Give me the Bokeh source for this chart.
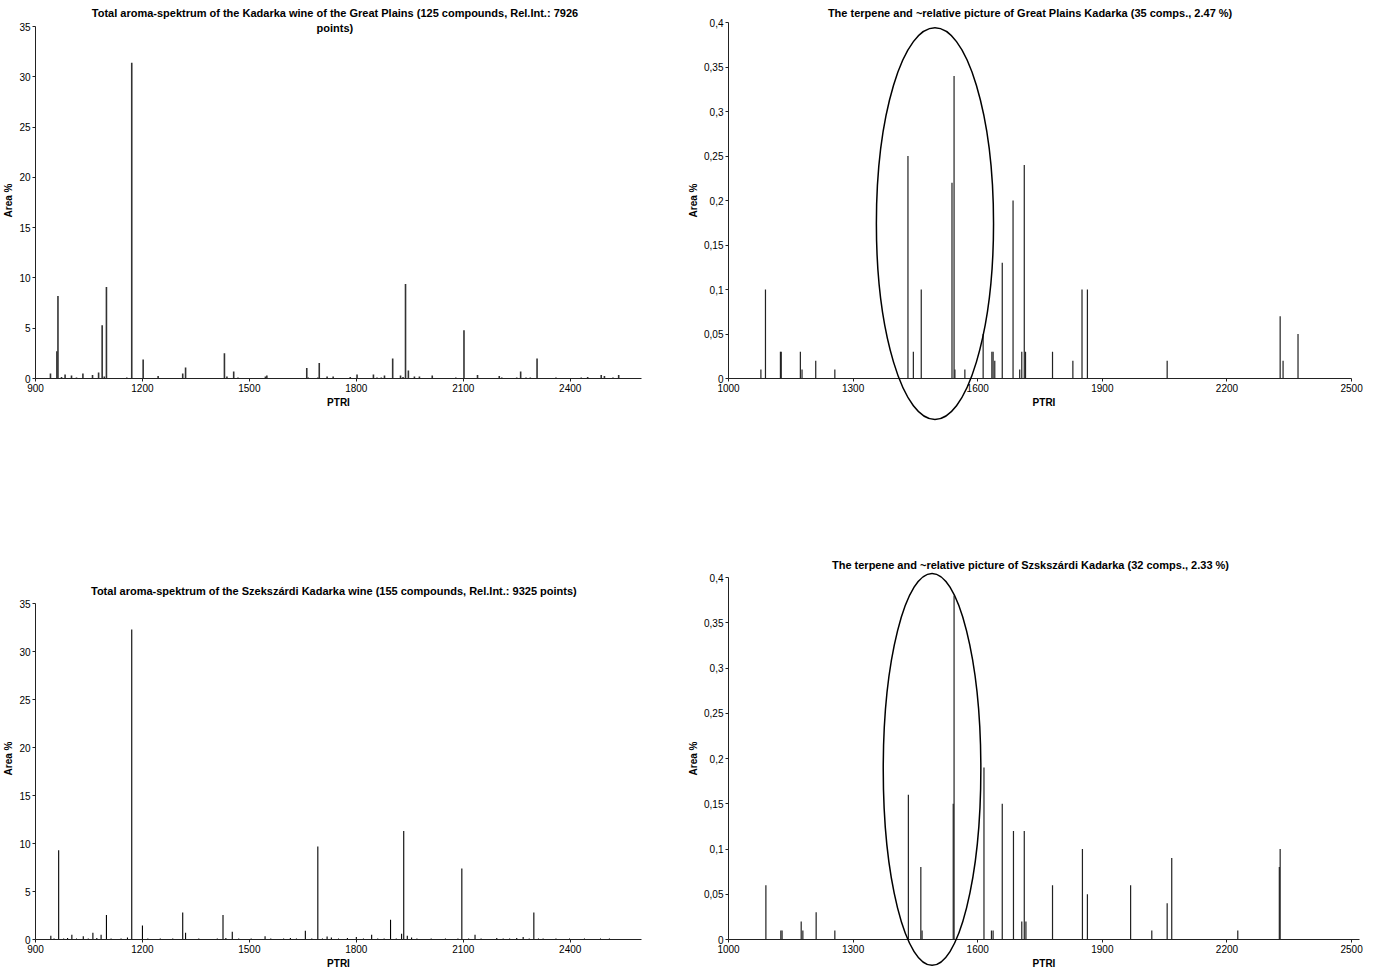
from bokeh.plotting import figure
from bokeh.layouts import column, row
from bokeh.models import Range1d, FixedTicker, CustomJSTickFormatter
from bokeh.core.properties import value
from bokeh.embed import file_html
from bokeh.resources import INLINE

# ---------------- data ----------------
gp_total_ptri = [942, 960, 963, 973, 983, 1001, 1015, 1033, 1060, 1077,
                 1087, 1093, 1099, 1156, 1170, 1202, 1244, 1313, 1321, 1361,
                 1430, 1437, 1456, 1468, 1545, 1549, 1585, 1620, 1661, 1665,
                 1692, 1696, 1718, 1735, 1783, 1802, 1848, 1858, 1870, 1879,
                 1902, 1924, 1931, 1938, 1946, 1963, 1977, 1993, 2013, 2061,
                 2079, 2102, 2140, 2201, 2208, 2250, 2261, 2276, 2288, 2301,
                 2307, 2335, 2360, 2431, 2449, 2487, 2496, 2520, 2536]
gp_total_area = [0.5, 2.7, 8.2, 0.15, 0.4, 0.3, 0.1, 0.5, 0.35, 0.6,
                 5.3, 0.2, 9.1, 0.1, 31.4, 1.9, 0.25, 0.5, 1.1, 0.05,
                 2.5, 0.2, 0.7, 0.1, 0.2, 0.3, 0.05, 0.05, 1.05, 0.1,
                 0.1, 1.55, 0.2, 0.2, 0.15, 0.4, 0.4, 0.1, 0.1, 0.3,
                 2.0, 0.3, 0.15, 9.4, 0.8, 0.2, 0.2, 0.05, 0.3, 0.05,
                 0.1, 4.8, 0.35, 0.25, 0.1, 0.1, 0.7, 0.1, 0.1, 0.05,
                 2.0, 0.05, 0.1, 0.1, 0.15, 0.35, 0.25, 0.1, 0.35]

sz_total_ptri = [943, 952, 965, 979, 990, 1002, 1015, 1034, 1048, 1061,
                 1072, 1084, 1099, 1112, 1125, 1140, 1158, 1170, 1200, 1215,
                 1232, 1250, 1268, 1285, 1300, 1313, 1321, 1340, 1358, 1375,
                 1392, 1410, 1426, 1434, 1452, 1470, 1488, 1505, 1522, 1544,
                 1560, 1578, 1596, 1615, 1632, 1657, 1675, 1692, 1705, 1718,
                 1730, 1750, 1775, 1800, 1820, 1843, 1860, 1878, 1896, 1912,
                 1927, 1933, 1943, 1955, 1970, 1990, 2010, 2030, 2050, 2070,
                 2085, 2096, 2115, 2133, 2150, 2170, 2194, 2212, 2230, 2250,
                 2268, 2285, 2298, 2311, 2324, 2340, 2360, 2380, 2398, 2420,
                 2440, 2460, 2485, 2510]
sz_total_area = [0.4, 0.1, 9.3, 0.1, 0.15, 0.5, 0.1, 0.35, 0.1, 0.7,
                 0.15, 0.5, 2.55, 0.1, 0.05, 0.1, 0.2, 32.3, 1.45, 0.1,
                 0.05, 0.1, 0.05, 0.1, 0.05, 2.8, 0.7, 0.05, 0.1, 0.05,
                 0.05, 0.1, 2.55, 0.15, 0.8, 0.1, 0.05, 0.1, 0.05, 0.35,
                 0.1, 0.05, 0.1, 0.15, 0.1, 0.9, 0.1, 9.7, 0.1, 0.3,
                 0.2, 0.1, 0.15, 0.25, 0.1, 0.5, 0.1, 0.1, 2.05, 0.1,
                 0.6, 11.3, 0.4, 0.2, 0.1, 0.05, 0.1, 0.05, 0.1, 0.05,
                 0.1, 7.4, 0.1, 0.5, 0.1, 0.05, 0.15, 0.1, 0.1, 0.15,
                 0.25, 0.1, 2.8, 0.1, 0.1, 0.05, 0.1, 0.05, 0.1, 0.05,
                 0.1, 0.05, 0.1, 0.1]

gp_terp_ptri = [1078, 1089, 1125, 1127, 1173, 1177, 1210, 1256, 1432, 1445,
                1464, 1538, 1543, 1545, 1569, 1613, 1634, 1637, 1641, 1659,
                1685, 1701, 1706, 1712, 1715, 1780, 1829, 1851, 1864, 2056,
                2328, 2335, 2371]
gp_terp_area = [0.01, 0.1, 0.03, 0.03, 0.03, 0.01, 0.02, 0.01, 0.25, 0.03,
                0.1, 0.22, 0.34, 0.01, 0.01, 0.05, 0.03, 0.03, 0.02, 0.13,
                0.2, 0.01, 0.03, 0.24, 0.03, 0.03, 0.02, 0.1, 0.1, 0.02,
                0.07, 0.02, 0.05]

sz_terp_ptri = [1090, 1126, 1129, 1175, 1179, 1211, 1256, 1433, 1463, 1466,
                1541, 1543, 1615, 1633, 1637, 1659, 1686, 1706, 1712, 1716,
                1780, 1852, 1864, 1968, 2019, 2056, 2067, 2226, 2326, 2328]
sz_terp_area = [0.06, 0.01, 0.01, 0.02, 0.01, 0.03, 0.01, 0.16, 0.08, 0.01,
                0.15, 0.38, 0.19, 0.01, 0.01, 0.15, 0.12, 0.02, 0.12, 0.02,
                0.06, 0.1, 0.05, 0.06, 0.01, 0.04, 0.09, 0.01, 0.08, 0.1]

total_xticks = [900, 1200, 1500, 1800, 2100, 2400]
total_yticks = [0, 5, 10, 15, 20, 25, 30, 35]
terp_xticks = [1000, 1300, 1600, 1900, 2200, 2500]
terp_yticks = [0, 0.05, 0.1, 0.15, 0.2, 0.25, 0.3, 0.35, 0.4]

title_tl = ["Total aroma-spektrum of the Kadarka wine of the Great Plains (125 compounds, Rel.Int.: 7926",
            "points)"]
title_tr = "The terpene and ~relative picture of Great Plains Kadarka (35 comps., 2.47 %)"
title_bl = "Total aroma-spektrum of the Szekszárdi Kadarka wine (155 compounds, Rel.Int.: 9325 points)"
title_br = "The terpene and ~relative picture of Szskszárdi Kadarka (32 comps., 2.33 %)"

# highlight ellipses (centre x, centre y, width, height) in data units
ellipse_tr = (1497, 0.174, 282, 0.44)
ellipse_br = (1490, 0.188, 235, 0.433)

FONT = "Liberation Sans"


def make_fig(width, height, xr, yr, xticks, yticks, borders, xbounds, ybounds, comma=False):
    l, r, t, b = borders
    p = figure(width=width, height=height, x_range=Range1d(*xr), y_range=Range1d(*yr),
               output_backend="svg", toolbar_location=None,
               min_border_left=l, min_border_right=r, min_border_top=t, min_border_bottom=b)
    p.xgrid.visible = False
    p.ygrid.visible = False
    p.outline_line_color = None
    p.background_fill_color = "white"
    p.border_fill_color = "white"
    p.xaxis.ticker = FixedTicker(ticks=xticks)
    p.yaxis.ticker = FixedTicker(ticks=yticks)
    p.xaxis.bounds = xbounds
    p.yaxis.bounds = ybounds
    if comma:
        p.yaxis.formatter = CustomJSTickFormatter(
            code="return (Math.round(tick*100)/100).toString().replace('.', ',')")
    for ax in (p.xaxis[0], p.yaxis[0]):
        ax.axis_line_color = "#222222"
        ax.major_tick_line_color = "#222222"
        ax.minor_tick_line_color = None
        ax.major_tick_out = 3
        ax.major_tick_in = 0
        ax.major_label_standoff = 2
        ax.major_label_text_font = FONT
        ax.major_label_text_font_size = "10px"
        ax.major_label_text_color = "black"
        ax.axis_label_text_font = FONT
        ax.axis_label_text_font_size = "10px"
        ax.axis_label_text_font_style = "bold"
        ax.axis_label_text_color = "black"
        ax.axis_label_standoff = 2
    p.xaxis.axis_label = "PTRI"
    p.yaxis.axis_label = "Area %"
    return p


def add_title(p, x, y, text):
    p.text(x=[x], y=[y], text=[text], text_align="center", text_baseline="middle",
           text_font=value(FONT), text_font_size="11px", text_font_style="bold",
           text_color="black", level="overlay")


TOP_H = 545
BOT_H = 975 - TOP_H
LEFT_W = 682
RIGHT_W = 1385 - LEFT_W

# top-left
p1 = make_fig(LEFT_W, TOP_H, (900, 2600), (0, 35.4), total_xticks, total_yticks,
              (34, 41, 22, 167), (900, 2600), (0, 35))
p1.segment(x0=gp_total_ptri, y0=0, x1=gp_total_ptri, y1=gp_total_area,
           line_color="#333333", line_width=1.6)
add_title(p1, 1740, 36.30, title_tl[0])
add_title(p1, 1740, 34.90, title_tl[1])

# top-right
p2 = make_fig(RIGHT_W, TOP_H, (1000, 2519), (0, 0.4), terp_xticks, terp_yticks,
              (46, 26, 22, 167), (1000, 2500), (0, 0.4), comma=True)
p2.segment(x0=gp_terp_ptri, y0=0, x1=gp_terp_ptri, y1=gp_terp_area,
           line_color="#222222", line_width=1.2)
p2.ellipse(x=[ellipse_tr[0]], y=[ellipse_tr[1]], width=ellipse_tr[2], height=ellipse_tr[3],
           fill_alpha=0, line_color="black", line_width=1.5, level="overlay")
add_title(p2, 1726, 0.4112, title_tr)

# bottom-left
p3 = make_fig(LEFT_W, BOT_H, (900, 2600), (0, 37.71), total_xticks, total_yticks,
              (34, 41, 32, 36), (900, 2600), (0, 35))
p3.segment(x0=sz_total_ptri, y0=0, x1=sz_total_ptri, y1=sz_total_area,
           line_color="black", line_width=1.1)
add_title(p3, 1737, 36.35, title_bl)

# bottom-right
p4 = make_fig(RIGHT_W, BOT_H, (1000, 2519), (0, 0.4), terp_xticks, terp_yticks,
              (46, 26, 32, 36), (1000, 2519), (0, 0.4), comma=True)
p4.segment(x0=sz_terp_ptri, y0=0, x1=sz_terp_ptri, y1=sz_terp_area,
           line_color="#222222", line_width=1.2)
p4.ellipse(x=[ellipse_br[0]], y=[ellipse_br[1]], width=ellipse_br[2], height=ellipse_br[3],
           fill_alpha=0, line_color="black", line_width=1.5, level="overlay")
add_title(p4, 1727, 0.4133, title_br)

layout = column(row(p1, p2), row(p3, p4))

open("out.html", "w").write(file_html(layout, INLINE))
